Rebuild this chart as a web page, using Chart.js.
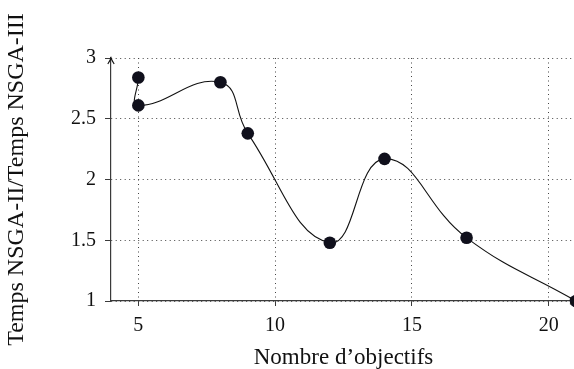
<!DOCTYPE html>
<html>
<head>
<meta charset="utf-8">
<script src="https://cdn.jsdelivr.net/npm/chart.js@4/dist/chart.umd.min.js"></script>
<style>
  html, body { margin: 0; padding: 0; background: #fff; overflow: hidden; }
  #wrap { width: 576px; height: 369px; }
</style>
</head>
<body>
<div id="wrap"><canvas id="c"></canvas></div>
<script>
// Number of objectives and the NSGA-II / NSGA-III run-time ratio
const objectifs = [5, 5, 8, 9, 12, 14, 17, 21];
const ratio = [2.84, 2.61, 2.8, 2.38, 1.48, 2.17, 1.52, 1.0];
const xTicks = [5, 10, 15, 20];
const yTicks = [1, 1.5, 2, 2.5, 3];

const FONT = "'Liberation Serif', 'DejaVu Serif', serif";
const AXIS = '#3a3a3a';
const INK = '#111';

// Arrow heads at the ends of both axis lines
const axisArrows = {
  id: 'axisArrows',
  afterDraw(chart) {
    const { ctx, chartArea: a } = chart;
    ctx.save();
    ctx.strokeStyle = INK;
    ctx.lineWidth = 1.1;
    ctx.beginPath();
    ctx.moveTo(a.left - 3.2, a.top + 6);
    ctx.quadraticCurveTo(a.left - 0.6, a.top + 2, a.left, a.top);
    ctx.quadraticCurveTo(a.left + 0.6, a.top + 2, a.left + 3.2, a.top + 6);
    ctx.stroke();
    ctx.beginPath();
    ctx.moveTo(a.right - 6, a.bottom - 3.2);
    ctx.quadraticCurveTo(a.right - 2, a.bottom - 0.6, a.right, a.bottom);
    ctx.quadraticCurveTo(a.right - 2, a.bottom + 0.6, a.right - 6, a.bottom + 3.2);
    ctx.stroke();
    ctx.restore();
  }
};

const gridOpts = (len) => ({
  color: '#444',
  lineWidth: 1,
  drawTicks: true,
  tickLength: len,
  tickColor: AXIS,
  tickBorderDash: []
});

new Chart(document.getElementById('c'), {
  type: 'scatter',
  data: {
    datasets: [{
      data: objectifs.map((x, i) => ({ x, y: ratio[i] })),
      showLine: true,
      tension: 0.45,
      borderColor: INK,
      borderWidth: 1.1,
      pointRadius: 6.3,
      pointHoverRadius: 6.3,
      pointBackgroundColor: '#10101c',
      pointBorderColor: '#10101c',
      pointBorderWidth: 0,
      clip: false
    }]
  },
  options: {
    responsive: true,
    maintainAspectRatio: false,
    animation: false,
    events: [],
    layout: { autoPadding: false, padding: { top: 58, right: 0, bottom: 0, left: 0 } },
    plugins: { legend: { display: false }, tooltip: { enabled: false } },
    scales: {
      x: {
        type: 'linear',
        min: 4,
        max: 21,
        afterBuildTicks(s) { s.ticks = xTicks.map(v => ({ value: v })); },
        afterFit(s) { s.height = 68; },
        grid: gridOpts(5),
        border: { display: true, color: AXIS, width: 1.2, dash: [1, 3.5] },
        ticks: {
          color: INK,
          padding: 8,
          font: { family: FONT, size: 20 },
          callback: v => String(v)
        },
        title: {
          display: true,
          text: 'Nombre d\u2019objectifs',
          color: INK,
          font: { family: FONT, size: 23, lineHeight: 1 },
          padding: { top: 0, bottom: 0 }
        }
      },
      y: {
        type: 'linear',
        min: 1,
        max: 3,
        afterBuildTicks(s) { s.ticks = yTicks.map(v => ({ value: v })); },
        afterFit(s) { s.width = 111; },
        grid: gridOpts(6),
        border: { display: true, color: AXIS, width: 1.2, dash: [1, 3.5] },
        ticks: {
          color: INK,
          padding: 9,
          font: { family: FONT, size: 20 },
          callback: v => String(v)
        },
        title: {
          display: true,
          text: 'Temps NSGA-II/Temps NSGA-III',
          color: INK,
          font: { family: FONT, size: 24 },
          padding: { top: 2, bottom: 0 }
        }
      }
    }
  },
  plugins: [axisArrows]
});
</script>
</body>
</html>
